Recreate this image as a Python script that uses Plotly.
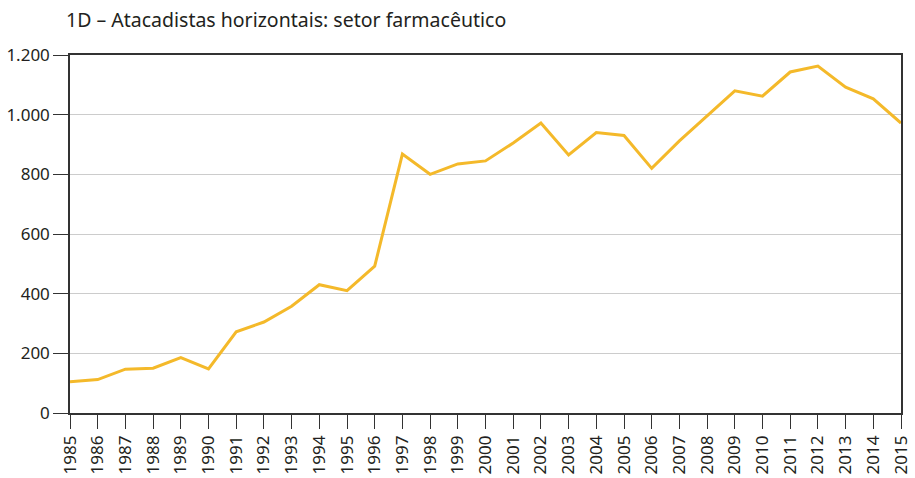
import plotly.graph_objects as go

years = list(range(1985, 2016))
values = [105, 112, 147, 150, 186, 148, 272, 305, 358, 430, 410, 492,
          868, 800, 835, 845, 905, 972, 865, 940, 930, 820, 912, 995,
          1080, 1062, 1143, 1163, 1092, 1053, 972]
y_tickvals = [0, 200, 400, 600, 800, 1000, 1200]
y_ticktext = ["0", "200", "400", "600", "800", "1.000", "1.200"]
title_text = "1D – Atacadistas horizontais: setor farmacêutico"

fig = go.Figure()
fig.add_trace(go.Scatter(x=years, y=values, mode="lines",
                         line=dict(color="#F4B92A", width=3),
                         hoverinfo="x+y", showlegend=False))

fig.update_layout(
    width=915, height=478,
    margin=dict(l=70, r=14, t=55, b=65, autoexpand=False),
    paper_bgcolor="white", plot_bgcolor="white",
    font=dict(family="Noto Sans", color="#231f20", size=17),
    title=dict(text=title_text, x=66/915, xanchor="left", y=1-20/478, yanchor="middle",
               font=dict(size=19.5, color="#231f20")),
)
fig.update_xaxes(range=[1985, 2015], tickvals=years, ticktext=[str(y) for y in years],
                 tickangle=-90, ticks="outside", ticklen=14, tickcolor="#333",
                 showline=True, linecolor="#333", linewidth=1.5, mirror=True,
                 showgrid=False, zeroline=False, tickfont=dict(size=17),
                 automargin=False)
fig.update_yaxes(range=[0, 1200], tickvals=y_tickvals, ticktext=y_ticktext,
                 ticks="outside", ticklen=15, tickcolor="#333",
                 showline=True, linecolor="#333", linewidth=1.5, mirror=True,
                 showgrid=True, gridcolor="#cccccc", gridwidth=1,
                 zeroline=False, tickfont=dict(size=17), automargin=False)

fig.write_html("out.html", config={"displayModeBar": False},
               post_script="document.body.style.margin='0';document.body.style.overflow='hidden';")
